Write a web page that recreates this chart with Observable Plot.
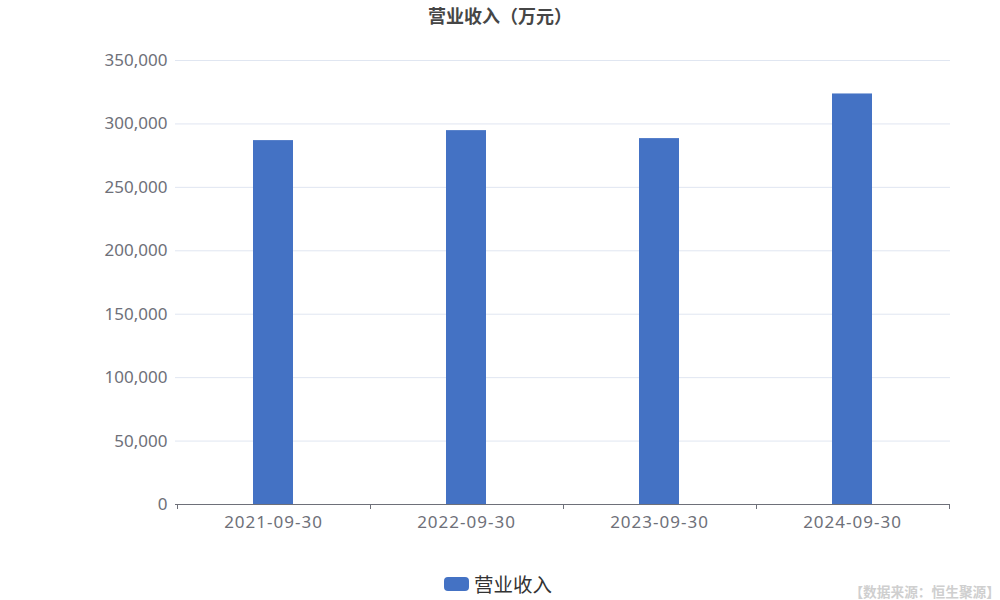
<!DOCTYPE html>
<html>
<head>
<meta charset="utf-8">
<script src="https://cdn.jsdelivr.net/npm/d3@7"></script>
<script src="https://cdn.jsdelivr.net/npm/@observablehq/plot@0.6"></script>
<style>
  body { margin: 0; background: #fff; }
  #chart { position: relative; width: 1000px; height: 600px; font-family: "Noto Sans", "Noto Sans CJK SC", sans-serif; }
  #chart svg { position: absolute; left: 0; top: 0; }
  #title { position: absolute; top: 2px; left: 0; width: 1000px; text-align: center;
           font: bold 18px "Noto Sans CJK SC", sans-serif; color: #464646; line-height: 26px; }
  #legend { position: absolute; top: 571px; left: 0; width: 1000px; display: flex; justify-content: center;
            align-items: center; font: 19.5px "Noto Sans CJK SC", sans-serif; color: #333; line-height: 26px; }
  #legend .swatch { width: 25px; height: 14px; border-radius: 4px; background: #4472c4; margin-right: 5px; margin-left: -4px; }
  #source { position: absolute; right: 0; top: 582px; font: bold 13.7px "Noto Sans CJK SC", sans-serif;
            color: #cfcfcf; line-height: 18px; }
</style>
</head>
<body>
<div id="chart">
  <div id="title"></div>
  <div id="legend"><div class="swatch"></div><span id="legend-label"></span></div>
  <div id="source"></div>
</div>
<script>
// Operating revenue (10k CNY) by reporting date
const titleText = "营业收入（万元）";
const seriesName = "营业收入";
const sourceText = "【数据来源：恒生聚源】";
const periods = ["2021-09-30", "2022-09-30", "2023-09-30", "2024-09-30"];
const revenue = [286850, 294720, 288430, 323620];
const yTicks = [0, 50000, 100000, 150000, 200000, 250000, 300000, 350000];

const rows = periods.map((period, i) => ({period, value: revenue[i]}));

const axisColor = "#6e7079";
const barColor = "#4472c4";

const plot = Plot.plot({
  width: 1000,
  height: 600,
  marginTop: 60,
  marginBottom: 96,
  marginLeft: 175,
  marginRight: 50,
  style: {fontFamily: '"Noto Sans", "Noto Sans CJK SC", sans-serif', fontSize: "17px", color: axisColor, background: "transparent"},
  x: {domain: periods, paddingInner: 0.7935, paddingOuter: 0.39675, label: null},
  y: {domain: [0, 350000], label: null},
  marks: [
    Plot.gridY(yTicks, {stroke: "#e0e6f1", strokeOpacity: 1}),
    Plot.axisY(yTicks, {tickSize: 0, tickPadding: 8, tickFormat: d3.format(","), fill: axisColor, fontSize: 17}),
    Plot.axisX({tickSize: 0, tickPadding: 11, fill: axisColor, fontSize: 17}),
    Plot.barY(rows, {x: "period", y: "value", fill: barColor}),
    Plot.ruleY([0], {stroke: axisColor})
  ]
});

// Slightly wider spacing on the date labels
d3.select(plot).selectAll('g[aria-label="x-axis tick label"] text').attr("letter-spacing", "1px");

// Category boundary ticks below the baseline, placed with the band scale
const xs = plot.scale("x");
const ys = plot.scale("y");
const gap = (xs.step - xs.bandwidth) / 2;
const bounds = periods.map(p => xs.apply(p) - gap).concat([xs.apply(periods[periods.length - 1]) + xs.bandwidth + gap]);
const y0 = ys.apply(0);
d3.select(plot).append("g")
  .attr("stroke", axisColor)
  .selectAll("line")
  .data(bounds)
  .join("line")
  .attr("x1", d => Math.round(d) + 0.5)
  .attr("x2", d => Math.round(d) + 0.5)
  .attr("y1", y0)
  .attr("y2", y0 + 5);

document.getElementById("chart").appendChild(plot);
document.getElementById("title").textContent = titleText;
document.getElementById("legend-label").textContent = seriesName;
document.getElementById("source").textContent = sourceText;
</script>
</body>
</html>
